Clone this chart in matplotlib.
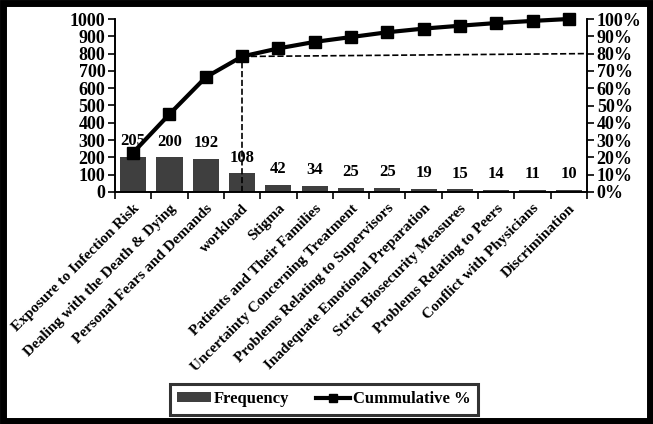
import numpy as np
import matplotlib
matplotlib.use("Agg")
import matplotlib.pyplot as plt
from matplotlib.patches import Rectangle

plt.rcParams["font.family"] = ["Liberation Serif", "DejaVu Serif"]
plt.rcParams["font.weight"] = "bold"

categories = ["Exposure to Infection Risk", "Dealing with the Death & Dying",
              "Personal Fears and Demands", "workload", "Stigma",
              "Patients and Their Families", "Uncertainty Concerning Treatment",
              "Problems Relating to Supervisors", "Inadequate Emotional Preparation",
              "Strict Biosecurity Measures", "Problems Relating to Peers",
              "Conflict with Physicians", "Discrimination"]
frequency = [205, 200, 192, 108, 42, 34, 25, 25, 19, 15, 14, 11, 10]

freq = np.array(frequency)
cum_pct = freq.cumsum() / freq.sum() * 100

fig = plt.figure(figsize=(6.53, 4.24), dpi=100)
ax = fig.add_axes([115 / 653, 1 - 192 / 424, 472 / 653, 173 / 424])
ax2 = ax.twinx()

x = np.arange(len(categories))
bars = ax.bar(x, freq, width=0.72, color="#3f3f3f", label="Frequency", zorder=2)
for xi, v in zip(x, freq):
    ax.text(xi, v + 45, str(v), ha="center", va="bottom", fontsize=12, fontweight="bold")

line, = ax2.plot(x, cum_pct, color="black", lw=3, marker="s", ms=8,
                 label="Cummulative %", zorder=3, clip_on=False)

# 80% reference lines
ax2.plot([3, 3], [0, cum_pct[3]], ls="--", color="black", lw=1.2, zorder=2)
ax2.plot([3, len(categories) - 0.5], [cum_pct[3], 80], ls="--", color="black", lw=1.2, zorder=2)

ax.set_xlim(-0.5, len(categories) - 0.5)
ax.set_ylim(0, 1000)
ax.set_yticks(range(0, 1001, 100))
ax2.set_ylim(0, 100)
ax2.set_yticks(range(0, 101, 10))
ax2.set_yticklabels([f"{t}%" for t in range(0, 101, 10)])

ax.set_xticks(x)
ax.set_xticklabels(categories, rotation=45, ha="right", rotation_mode="anchor", fontsize=11)
ax.set_xticks(np.arange(-0.5, len(categories), 1), minor=True)
ax.tick_params(axis="x", which="major", length=0, pad=7)
ax.tick_params(axis="x", which="minor", length=5, width=1.2)
ax.tick_params(axis="y", labelsize=13, length=5, width=1.2, pad=2)
ax2.tick_params(axis="y", labelsize=13, length=5, width=1.2, pad=2)
for a in (ax, ax2):
    a.spines["top"].set_visible(False)
    for s in ("left", "right", "bottom"):
        a.spines[s].set_linewidth(1.2)
for lbl in ax.get_yticklabels() + ax2.get_yticklabels() + ax.get_xticklabels():
    lbl.set_fontweight("bold")

leg = fig.legend([bars, line], ["Frequency", "Cummulative %"], loc="center",
                 bbox_to_anchor=(324 / 653, 1 - 399 / 424), ncol=2, frameon=True,
                 fancybox=False, edgecolor="black", fontsize=12, handlelength=2.0,
                 handleheight=0.5, handletextpad=0.2, columnspacing=1.6,
                 borderpad=0.45, borderaxespad=0, markerscale=0.8)
leg.get_frame().set_linewidth(2.2)
for t in leg.get_texts():
    t.set_fontweight("bold")

fig.patches.append(Rectangle((0.004, 0.006), 0.992, 0.988, transform=fig.transFigure,
                             fill=False, edgecolor="black", lw=5))

fig.savefig("out.png", dpi=100)
